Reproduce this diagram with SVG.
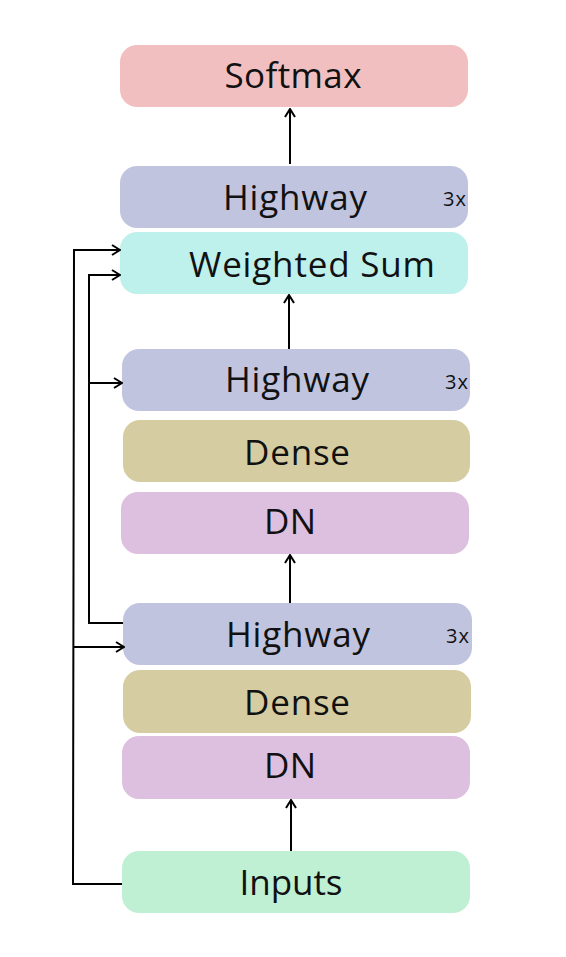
<svg xmlns="http://www.w3.org/2000/svg" width="566" height="957" viewBox="0 0 566 957">
<style>
.lbl{font-family:"Open Sans","Liberation Sans",sans-serif;font-size:35px;fill:#111;text-anchor:middle}
.rep{font-family:"Open Sans","Liberation Sans",sans-serif;font-size:20px;fill:#111}
.c{fill:none;stroke:#000;stroke-width:2}
.softmax{fill:#F2BFC1}.highway{fill:#C0C4DE}.wsum{fill:#BEF0EC}.dense{fill:#D5CCA2}.dn{fill:#DDBFDF}.inputs{fill:#C0F0D4}
</style>
<defs>
<marker id="ah" viewBox="0 0 12 12" refX="11" refY="6" markerWidth="12" markerHeight="12" markerUnits="userSpaceOnUse" orient="auto">
<polyline points="3,1 11,6 3,11" fill="none" stroke="#000" stroke-width="2"/>
</marker>
</defs>
<rect width="566" height="957" fill="#fff"/>
<g id="softmax"><rect class="softmax" x="120" y="45" width="348" height="62" rx="17"/><text class="lbl" x="293" y="88" textLength="137" lengthAdjust="spacing">Softmax</text></g>
<g id="highway1"><rect class="highway" x="120" y="166" width="348" height="62" rx="17"/><text class="lbl" x="295" y="210" textLength="144" lengthAdjust="spacing">Highway</text><text class="rep" x="443" y="206" textLength="23" lengthAdjust="spacing">3x</text></g>
<g id="weighted-sum"><rect class="wsum" x="120" y="232" width="348" height="62" rx="17"/><text class="lbl" x="312" y="277" textLength="246" lengthAdjust="spacing">Weighted Sum</text></g>
<g id="highway2"><rect class="highway" x="122" y="349" width="348" height="62" rx="17"/><text class="lbl" x="297" y="392" textLength="144" lengthAdjust="spacing">Highway</text><text class="rep" x="445" y="389" textLength="23" lengthAdjust="spacing">3x</text></g>
<g id="dense1"><rect class="dense" x="123" y="420" width="347" height="62" rx="17"/><text class="lbl" x="297" y="465" textLength="106" lengthAdjust="spacing">Dense</text></g>
<g id="dn1"><rect class="dn" x="121" y="492" width="348" height="62" rx="17"/><text class="lbl" x="290" y="534" textLength="52" lengthAdjust="spacing">DN</text></g>
<g id="highway3"><rect class="highway" x="123" y="603" width="349" height="62" rx="17"/><text class="lbl" x="298" y="647" textLength="144" lengthAdjust="spacing">Highway</text><text class="rep" x="446" y="643" textLength="23" lengthAdjust="spacing">3x</text></g>
<g id="dense2"><rect class="dense" x="123" y="670" width="348" height="63" rx="17"/><text class="lbl" x="297" y="715" textLength="106" lengthAdjust="spacing">Dense</text></g>
<g id="dn2"><rect class="dn" x="122" y="736" width="348" height="63" rx="17"/><text class="lbl" x="290" y="778" textLength="52" lengthAdjust="spacing">DN</text></g>
<g id="inputs"><rect class="inputs" x="122" y="851" width="348" height="62" rx="17"/><text class="lbl" x="291" y="895" textLength="103" lengthAdjust="spacing">Inputs</text></g>
<g id="connectors">
<line class="c" x1="290" y1="164" x2="290" y2="109" marker-end="url(#ah)"/>
<line class="c" x1="289" y1="349" x2="289" y2="295" marker-end="url(#ah)"/>
<line class="c" x1="290" y1="603" x2="290" y2="555" marker-end="url(#ah)"/>
<line class="c" x1="291" y1="851" x2="291" y2="800" marker-end="url(#ah)"/>
<polyline class="c" points="122,884 73,884 74,250 120,250" marker-end="url(#ah)"/>
<line class="c" x1="73.5" y1="647" x2="124" y2="647" marker-end="url(#ah)"/>
<polyline class="c" points="123,623 89,623 89,275 120,275" marker-end="url(#ah)"/>
<line class="c" x1="89" y1="383" x2="122" y2="383" marker-end="url(#ah)"/>
</g>
</svg>
